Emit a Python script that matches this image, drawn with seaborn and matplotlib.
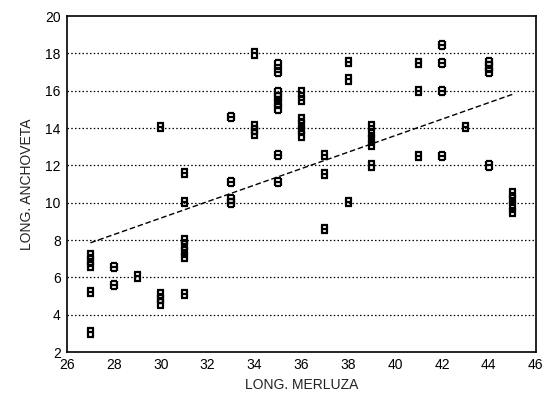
import numpy as np
import pandas as pd
import seaborn as sns
from matplotlib import pyplot as plt
from matplotlib.path import Path

# merluza length (x) and anchoveta length (y)
merluza = [27, 27, 27, 27, 27,
           28, 28,
           29,
           30, 30, 30, 30,
           31, 31, 31, 31, 31, 31, 31,
           33, 33, 33, 33,
           34, 34, 34, 34,
           35, 35, 35, 35, 35, 35, 35, 35,
           36, 36, 36, 36, 36, 36,
           37, 37, 37,
           38, 38, 38,
           39, 39, 39, 39, 39,
           41, 41, 41,
           42, 42, 42, 42,
           43,
           44, 44, 44, 44,
           45, 45, 45, 45]
anchoveta = [3.05, 5.2, 6.6, 6.9, 7.2,
             5.6, 6.55,
             6.05,
             4.6, 4.85, 5.1, 14.05,
             5.1, 7.1, 7.4, 7.7, 8.0, 10.05, 11.6,
             10.0, 10.2, 11.1, 14.6,
             13.7, 13.9, 14.1, 18.0,
             11.1, 12.55, 15.05, 15.35, 15.65, 15.9, 17.0, 17.4,
             13.6, 13.9, 14.2, 14.5, 15.5, 15.9,
             8.6, 11.55, 12.55,
             10.05, 16.6, 17.55,
             12.0, 13.1, 13.4, 13.75, 14.1,
             12.5, 16.0, 17.5,
             12.5, 16.0, 17.5, 18.45,
             14.05,
             12.0, 17.0, 17.3, 17.55,
             9.5, 9.85, 10.2, 10.5]

# fitted trend line end points
fit_x = [27, 45]
fit_y = [7.85, 15.8]

x_ticks = [26, 28, 30, 32, 34, 36, 38, 40, 42, 44, 46]
y_ticks = [2, 4, 6, 8, 10, 12, 14, 16, 18, 20]

df = pd.DataFrame({'merluza': merluza, 'anchoveta': anchoveta})
df_fit = pd.DataFrame({'x': fit_x, 'y': fit_y})

sns.set_theme(style='white')
plt.rcParams['font.family'] = ['Liberation Sans', 'DejaVu Sans']

# "H"-like plotting symbol of the old software (taller than wide)
w, h = 0.32, 0.5
verts = [(-w, -h), (-w, h),
         (w, -h), (w, h),
         (-w, 0.0), (w, 0.0),
         (-w - 0.08, h), (w + 0.08, h),
         (-w - 0.08, -h), (w + 0.08, -h)]
codes = [Path.MOVETO, Path.LINETO] * 5
h_marker = Path(verts, codes)

fig = plt.figure(figsize=(5.45, 4.0), dpi=100)
ax = fig.add_axes([0.123, 0.12, 0.860, 0.840])

for yv in y_ticks[1:-1]:
    ax.axhline(yv, color='black', lw=0.9, ls=(0, (1.2, 1.8)), zorder=0)

sns.scatterplot(data=df, x='merluza', y='anchoveta', marker=h_marker,
                s=36, facecolor='none', edgecolor='black', linewidth=1.6,
                ax=ax, zorder=3)
sns.lineplot(data=df_fit, x='x', y='y', color='black', lw=1.0,
             ls=(0, (4, 2)), ax=ax, zorder=2)

ax.set_xlim(26, 46)
ax.set_ylim(2, 20)
ax.set_xticks(x_ticks)
ax.set_yticks(y_ticks)
ax.tick_params(direction='inout', length=5, width=1, labelsize=10,
               colors='black', pad=2)
for s in ax.spines.values():
    s.set_color('black')
    s.set_linewidth(1.2)

ax.set_xlabel('LONG. MERLUZA', fontsize=10, labelpad=4, color='#222222')
ax.set_ylabel('LONG. ANCHOVETA', fontsize=10, labelpad=8, color='#222222')

plt.savefig('out.png', dpi=100)
